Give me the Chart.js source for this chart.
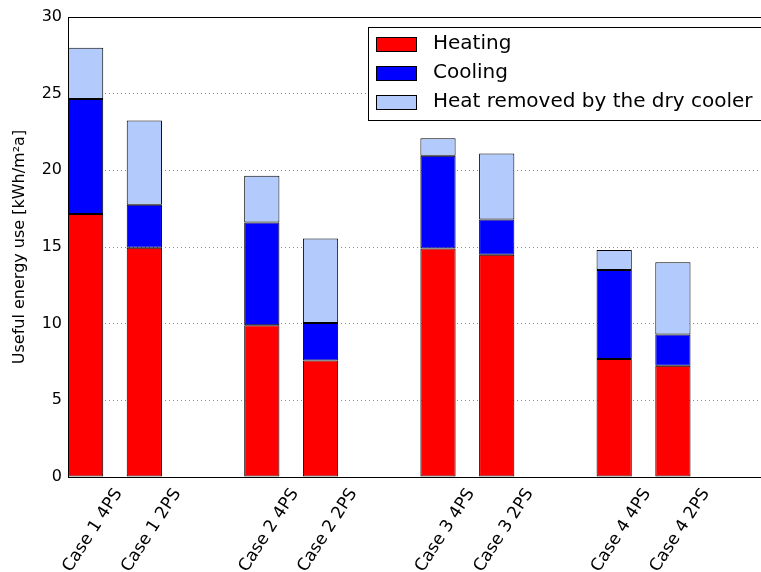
<!DOCTYPE html>
<html>
<head>
<meta charset="utf-8">
<script src="https://cdn.jsdelivr.net/npm/chart.js@4/dist/chart.umd.min.js"></script>
<style>
  html, body { margin: 0; padding: 0; background: #fff; overflow: hidden; }
  #wrap { width: 761px; height: 572px; }
</style>
</head>
<body>
<div id="wrap"><canvas id="energyChart" width="761" height="572"></canvas></div>
<script>
// Slots along the x axis, '' = empty gap between the cases
const slots = ['Case 1 4PS', 'Case 1 2PS', '', 'Case 2 4PS', 'Case 2 2PS', '',
               'Case 3 4PS', 'Case 3 2PS', '', 'Case 4 4PS', 'Case 4 2PS', ''];

// Useful energy use [kWh/m2a], one value per case
const heating   = [17.15, 14.95, 9.9, 7.6, 14.9, 14.5, 7.7, 7.25];
const cooling   = [7.5, 2.8, 6.7, 2.45, 6.05, 2.3, 5.8, 2.05];
const dryCooler = [3.35, 5.5, 3.05, 5.5, 1.15, 4.3, 1.3, 4.7];

const yTicks = [0, 5, 10, 15, 20, 25, 30];

// bar left edges sit on slot index (matplotlib style), so centre = index + half bar width
const barWidth = 0.6;
let caseLabels = [];
let casePos = [];
slots.forEach((s, i) => {
  if (s !== '') {
    caseLabels.push(s);
    casePos.push(i + barWidth / 2);
  }
});

function toPoints(vals) {
  return vals.map((v, i) => ({x: casePos[i], y: v}));
}

const FONT = "'DejaVu Sans', 'Liberation Sans', sans-serif";

// legend box + top frame line (the plot is cut off on the right, like the original)
const frameAndLegend = {
  id: 'frameAndLegend',
  afterDraw(chart) {
    const ctx = chart.ctx;
    const a = chart.chartArea;
    ctx.save();
    ctx.strokeStyle = '#000';
    ctx.lineWidth = 1;
    ctx.beginPath();
    ctx.moveTo(a.left, a.top + 0.5);
    ctx.lineTo(a.right + 10, a.top + 0.5);
    ctx.stroke();

    // legend
    const bx = 368, by = 27, bw = 410, bh = 93;
    ctx.fillStyle = '#fff';
    ctx.fillRect(bx, by, bw, bh);
    ctx.strokeRect(bx + 0.5, by + 0.5, bw, bh);
    const ds = chart.data.datasets;
    const rows = [44, 73, 102];
    ctx.font = '20px ' + FONT;
    ctx.textBaseline = 'middle';
    ds.forEach((d, i) => {
      ctx.fillStyle = d.backgroundColor;
      ctx.fillRect(376, rows[i] - 7, 40, 14);
      ctx.strokeRect(376.5, rows[i] - 6.5, 40, 14);
      ctx.fillStyle = '#000';
      ctx.fillText(d.label, 433, rows[i]);
    });
    ctx.restore();
  }
};

new Chart(document.getElementById('energyChart'), {
  type: 'bar',
  data: {
    datasets: [
      {
        label: 'Heating',
        data: toPoints(heating),
        backgroundColor: '#ff0000',
        borderColor: '#000',
        borderWidth: 1,
        borderSkipped: false,
      },
      {
        label: 'Cooling',
        data: toPoints(cooling),
        backgroundColor: '#0000ff',
        borderColor: '#000',
        borderWidth: 1,
        borderSkipped: false,
      },
      {
        label: 'Heat removed by the dry cooler',
        data: toPoints(dryCooler),
        backgroundColor: '#b2cbfc',
        borderColor: '#000',
        borderWidth: 1,
        borderSkipped: false,
      },
    ],
  },
  plugins: [frameAndLegend],
  options: {
    responsive: false,
    animation: false,
    barPercentage: barWidth,
    categoryPercentage: 1.0,
    layout: {
      padding: {top: 17, right: 0, left: 0, bottom: 0},
    },
    plugins: {
      legend: {display: false},
      tooltip: {enabled: false},
    },
    scales: {
      x: {
        type: 'linear',
        stacked: true,
        offset: false,
        min: 0,
        max: 11.8,   // axis runs on past the picture edge in the original
        afterBuildTicks: (scale) => {
          scale.ticks = casePos.map(v => ({value: v}));
        },
        afterFit: (scale) => { scale.height = 95; },
        grid: {display: false, drawTicks: false},
        border: {display: true, color: '#000', width: 1},
        ticks: {
          autoSkip: false,
          maxRotation: 57,
          minRotation: 57,
          labelOffset: 33,
          padding: 8,
          color: '#000',
          font: {family: FONT, size: 17},
          callback: (value, index) => caseLabels[index],
        },
      },
      y: {
        stacked: true,
        min: 0,
        max: 30,
        afterBuildTicks: (scale) => {
          scale.ticks = yTicks.map(v => ({value: v}));
        },
        afterFit: (scale) => { scale.width = 68; },
        grid: {
          color: (c) => (c.tick && (c.tick.value === 0 || c.tick.value === 30)) ? 'rgba(0,0,0,0)' : '#8a8a8a',
          lineWidth: 1,
          drawTicks: false,
        },
        border: {display: true, color: '#000', width: 1, dash: [1, 3]},
        ticks: {
          padding: 6,
          color: '#000',
          font: {family: FONT, size: 16},
        },
        title: {
          display: true,
          text: 'Useful energy use [kWh/m²a]',
          color: '#000',
          font: {family: FONT, size: 16},
          padding: {top: 10, bottom: 0},
        },
      },
    },
  },
});
</script>
</body>
</html>
